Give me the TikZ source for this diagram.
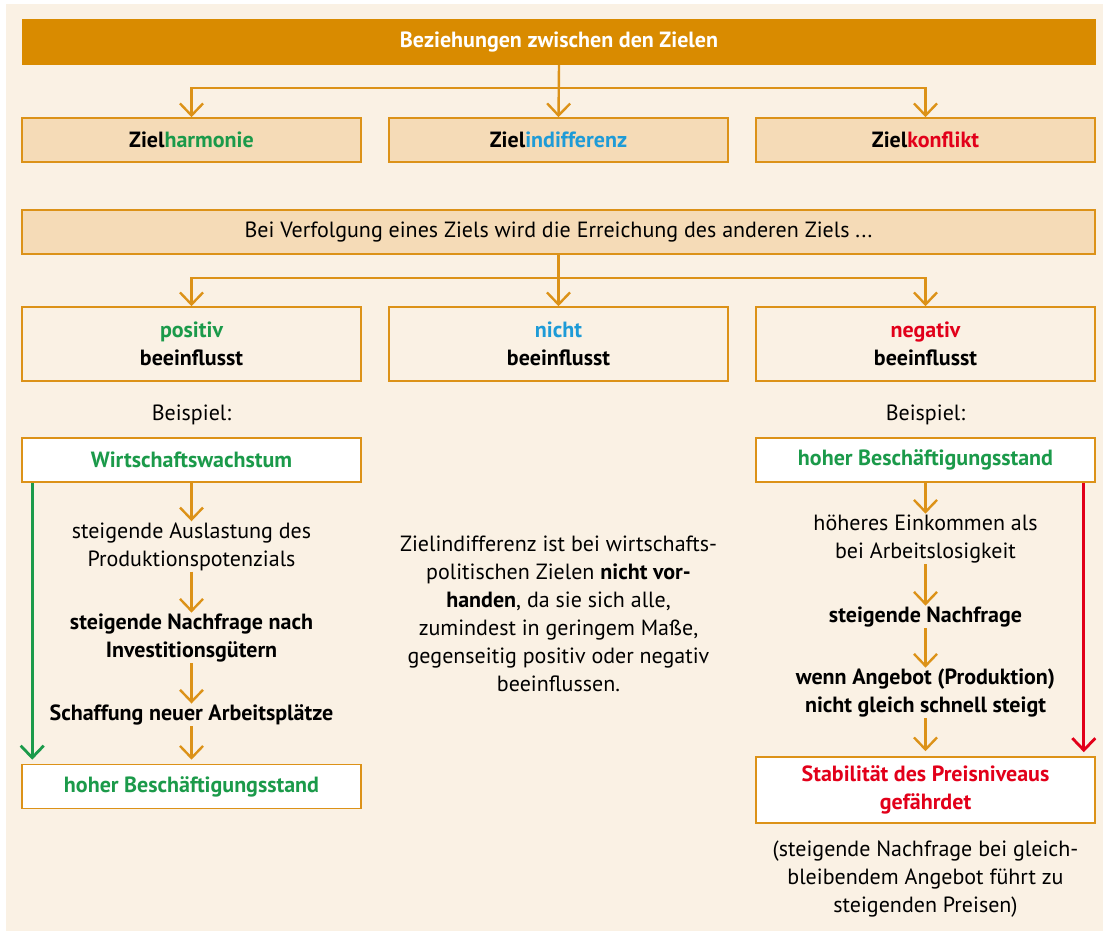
\documentclass[tikz,border=0pt]{standalone}
\usepackage{fontspec}
\setmainfont{PT Sans}
\usetikzlibrary{positioning,arrows.meta,calc}

\definecolor{zorange}{HTML}{D98B00}
\definecolor{zline}{HTML}{DC9218}
\definecolor{zbeige}{HTML}{F5DBB7}
\definecolor{zbg}{HTML}{FAF1E4}
\definecolor{zgreen}{HTML}{1B9A4A}
\definecolor{zblue}{HTML}{1E9BD7}
\definecolor{zred}{HTML}{E2001A}

\begin{document}
\begin{tikzpicture}[x=1pt,y=-1pt,
    every node/.style={font=\fontsize{22}{28}\selectfont, align=center, inner sep=1pt},
    bar/.style={fill=zorange, text=white, font=\fontsize{22}{28}\selectfont\bfseries,
        minimum width=1074pt, minimum height=46pt},
    goalbox/.style={draw=zline, line width=1.6pt, fill=zbeige,
        minimum width=339pt, minimum height=44pt},
    widebox/.style={goalbox, minimum width=1073pt},
    effectbox/.style={draw=zline, line width=1.6pt, minimum width=339pt, minimum height=74pt},
    examplebox/.style={draw=zline, line width=1.6pt, fill=white,
        minimum width=339pt, minimum height=44pt},
    link/.style={draw=zline, line width=2.4pt, -{Straight Barb[length=12pt,width=23pt]}},
    shortcut/.style={line width=2.8pt, -{Straight Barb[length=12pt,width=23pt]}}
    ]

    % page and background
    \useasboundingbox (0,0) rectangle (1103,931);
    \fill[zbg] (6,4) rectangle (1103,931);

    % head and the three kinds of relation
    \node[bar] (top) at (559,42) {Beziehungen zwischen den Zielen};
    \node[goalbox] (zh) at (191.5,140) {\textbf{Ziel\textcolor{zgreen}{harmonie}}};
    \node[goalbox] (zi) at (558.5,140) {\textbf{Ziel\textcolor{zblue}{indifferenz}}};
    \node[goalbox] (zk) at (925.5,140) {\textbf{Ziel\textcolor{zred}{konflikt}}};

    \draw[link] (top.south) -- ++(0,23) -| (zh.north);
    \draw[link] (top.south) -- (zi.north);
    \draw[link] (top.south) -- ++(0,23) -| (zk.north);

    % second row
    \node[widebox] (bei) at (558.5,232)
        {Bei Verfolgung eines Ziels wird die Erreichung des anderen Ziels ...};
    \node[effectbox] (pos) at (191.5,344)
        {\textbf{\textcolor{zgreen}{positiv}}\\\textbf{beeinflusst}};
    \node[effectbox] (nic) at (558.5,344)
        {\textbf{\textcolor{zblue}{nicht}}\\\textbf{beeinflusst}};
    \node[effectbox] (neg) at (925.5,344)
        {\textbf{\textcolor{zred}{negativ}}\\\textbf{beeinflusst}};

    \draw[link] (bei.south) -- ++(0,23) -| (pos.north);
    \draw[link] (bei.south) -- (nic.north);
    \draw[link] (bei.south) -- ++(0,23) -| (neg.north);

    % left example: harmony
    \node (bsp1) at (191.5,415) {Beispiel:};
    \node[examplebox] (ww) at (191.5,460) {\textbf{\textcolor{zgreen}{Wirtschaftswachstum}}};
    \node (l1) at (191.5,546.5) {steigende Auslastung des\\Produktionspotenzials};
    \node (l2) at (191.5,638) {\textbf{steigende Nachfrage nach}\\\textbf{Investitionsgütern}};
    \node (l3) at (191.5,715) {\textbf{Schaffung neuer Arbeitsplätze}};
    \node[examplebox] (hb) at (191.5,786.5) {\textbf{\textcolor{zgreen}{hoher Beschäftigungsstand}}};

    \draw[link] (ww) -- (l1);
    \draw[link] (l1) -- (l2);
    \draw[link] (l2) -- (l3);
    \draw[link,shorten >=4pt] (l3) -- (hb);
    \draw[shortcut,zgreen] ($(ww.south west)+(11,0)$) -- ($(hb.north west)+(11,-4)$);

    % middle: indifference
    \node (mid) at (558.5,614) {Zielindifferenz ist bei wirtschafts-\\
        politischen Zielen \textbf{nicht vor-}\\
        \textbf{handen}, da sie sich alle,\\
        zumindest in geringem Maße,\\
        gegenseitig positiv oder negativ\\
        beeinflussen.};

    % right example: conflict
    \node (bsp2) at (925.5,415) {Beispiel:};
    \node[examplebox] (hbs) at (925.5,460) {\textbf{\textcolor{zgreen}{hoher Beschäftigungsstand}}};
    \node (r1) at (925.5,539) {höheres Einkommen als\\bei Arbeitslosigkeit};
    \node (r2) at (925.5,617) {\textbf{steigende Nachfrage}};
    \node (r3) at (925.5,693) {\textbf{wenn Angebot (Produktion)}\\\textbf{nicht gleich schnell steigt}};
    \node[examplebox,minimum height=66pt] (stab) at (925.5,790)
        {\textbf{\textcolor{zred}{Stabilität des Preisniveaus}}\\\textbf{\textcolor{zred}{gefährdet}}};
    \node (note) at (925.5,879) {(steigende Nachfrage bei gleich-\\
        bleibendem Angebot führt zu\\steigenden Preisen)};

    \draw[link] (hbs) -- (r1);
    \draw[link] (r1) -- (r2);
    \draw[link] (r2) -- (r3);
    \draw[link,shorten >=5pt] (r3) -- (stab);
    \draw[shortcut,zred] ($(hbs.south east)+(-12,0)$) -- ($(stab.north east)+(-12,-4)$);
\end{tikzpicture}
\end{document}
